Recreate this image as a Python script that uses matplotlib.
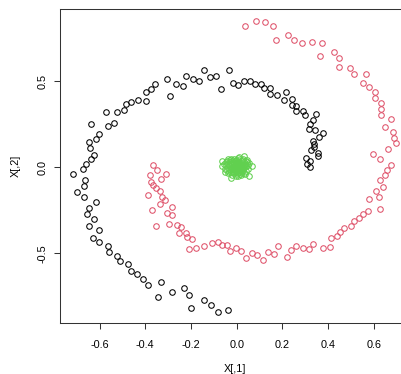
import matplotlib
matplotlib.use("Agg")
import matplotlib.pyplot as plt

# ---- data: three classes (X[,1], X[,2]) ----
black_x = [-0.038, -0.081, -0.112, -0.143, -0.200, -0.209, -0.232, -0.283, -0.346, -0.333,
           -0.390, -0.411, -0.435, -0.464, -0.474, -0.511, -0.523, -0.560, -0.565, -0.601,
           -0.628, -0.603, -0.645, -0.625, -0.654, -0.648, -0.616, -0.670, -0.699, -0.667,
           -0.665, -0.716, -0.671, -0.660, -0.639, -0.623, -0.642, -0.645, -0.614, -0.602,
           -0.639, -0.562, -0.536, -0.573, -0.524, -0.493, -0.486, -0.461, -0.433, -0.395,
           -0.396, -0.373, -0.357, -0.305, -0.293, -0.266, -0.236, -0.223, -0.193, -0.167,
           -0.143, -0.115, -0.089, -0.068, -0.032, -0.018, 0.004, 0.033, 0.060, 0.079,
           0.105, 0.118, 0.147, 0.148, 0.177, 0.215, 0.206, 0.244, 0.241, 0.262,
           0.262, 0.289, 0.300, 0.348, 0.335, 0.323, 0.318, 0.345, 0.380, 0.361,
           0.336, 0.340, 0.340, 0.325, 0.357, 0.357, 0.303, 0.322, 0.307, 0.323]
black_y = [-0.831, -0.840, -0.802, -0.772, -0.816, -0.742, -0.703, -0.723, -0.754, -0.667,
           -0.683, -0.651, -0.623, -0.601, -0.562, -0.547, -0.513, -0.494, -0.456, -0.437,
           -0.409, -0.362, -0.341, -0.299, -0.272, -0.238, -0.200, -0.174, -0.142, -0.109,
           -0.076, -0.039, -0.010, 0.019, 0.047, 0.073, 0.111, 0.145, 0.166, 0.194,
           0.250, 0.240, 0.256, 0.322, 0.322, 0.333, 0.368, 0.381, 0.391, 0.385,
           0.437, 0.454, 0.484, 0.512, 0.413, 0.484, 0.473, 0.531, 0.513, 0.503,
           0.566, 0.523, 0.529, 0.453, 0.563, 0.492, 0.480, 0.499, 0.503, 0.484,
           0.487, 0.459, 0.463, 0.424, 0.423, 0.439, 0.390, 0.399, 0.365, 0.356,
           0.327, 0.326, 0.305, 0.309, 0.277, 0.249, 0.224, 0.214, 0.202, 0.177,
           0.154, 0.135, 0.119, 0.101, 0.086, 0.065, 0.055, 0.037, 0.022, 0.002]

red_x = [0.038, 0.084, 0.125, 0.159, 0.172, 0.223, 0.251, 0.284, 0.330, 0.372,
         0.363, 0.427, 0.447, 0.449, 0.496, 0.512, 0.565, 0.551, 0.580, 0.604,
         0.604, 0.630, 0.632, 0.633, 0.676, 0.650, 0.685, 0.688, 0.698, 0.663,
         0.595, 0.626, 0.675, 0.659, 0.648, 0.627, 0.640, 0.611, 0.623, 0.581,
         0.627, 0.576, 0.555, 0.534, 0.512, 0.500, 0.470, 0.454, 0.438, 0.411,
         0.410, 0.380, 0.336, 0.317, 0.289, 0.258, 0.238, 0.220, 0.183, 0.163,
         0.139, 0.114, 0.090, 0.066, 0.039, 0.019, -0.002, -0.029, -0.042, -0.064,
         -0.081, -0.107, -0.144, -0.178, -0.210, -0.196, -0.218, -0.223, -0.253, -0.245,
         -0.263, -0.295, -0.353, -0.283, -0.306, -0.371, -0.283, -0.336, -0.314, -0.327,
         -0.386, -0.336, -0.355, -0.368, -0.375, -0.329, -0.308, -0.379, -0.349, -0.368]
red_y = [0.820, 0.852, 0.847, 0.822, 0.741, 0.771, 0.740, 0.724, 0.730, 0.723,
         0.647, 0.670, 0.635, 0.586, 0.580, 0.545, 0.541, 0.488, 0.464, 0.437,
         0.400, 0.372, 0.337, 0.304, 0.279, 0.236, 0.206, 0.173, 0.142, 0.108,
         0.078, 0.047, 0.012, -0.017, -0.047, -0.075, -0.113, -0.135, -0.174, -0.185,
         -0.245, -0.253, -0.274, -0.294, -0.313, -0.341, -0.351, -0.377, -0.402, -0.412,
         -0.462, -0.468, -0.444, -0.473, -0.468, -0.458, -0.481, -0.522, -0.459, -0.503,
         -0.494, -0.540, -0.509, -0.501, -0.527, -0.488, -0.472, -0.487, -0.452, -0.453,
         -0.434, -0.438, -0.456, -0.469, -0.474, -0.415, -0.406, -0.380, -0.380, -0.345,
         -0.334, -0.330, -0.340, -0.276, -0.264, -0.247, -0.233, -0.213, -0.188, -0.173,
         -0.163, -0.137, -0.122, -0.105, -0.084, -0.070, -0.039, -0.045, -0.013, 0.012]

green_x = [-0.063, 0.031, -0.024, 0.055, 0.054, -0.066, 0.066, -0.050, 0.045, -0.040,
           0.010, -0.012, 0.022, -0.030, 0.038, -0.045, 0.048, -0.052, 0.030, -0.020,
           0.005, 0.018, -0.035, 0.040, -0.008, 0.012, -0.025, 0.025, -0.015, 0.015,
           0.000, 0.005, -0.005, 0.010, -0.010, 0.020, -0.020, 0.002, -0.003, 0.028,
           -0.028, 0.008, -0.012, 0.014, -0.006, 0.032, -0.034, 0.003, -0.018, 0.022,
           0.035, -0.038, 0.016, -0.024, 0.006, -0.002, 0.026, -0.030, 0.042, -0.044,
           0.012, -0.014, 0.018, -0.008, 0.030, -0.032, 0.000, 0.008, -0.016, 0.024,
           -0.010, 0.036, -0.026, 0.004, -0.004, 0.020, -0.036, 0.046, -0.042, 0.014,
           -0.020, 0.028, -0.006, 0.010, -0.014, 0.034, -0.030, 0.002, 0.016, -0.022,
           0.040, -0.048, 0.050, -0.056, 0.020, 0.000, -0.010, 0.012, -0.004, 0.006]
green_y = [0.038, 0.066, -0.060, -0.051, 0.027, 0.010, 0.005, -0.030, 0.045, 0.050,
           0.058, 0.048, 0.040, 0.030, 0.020, 0.015, -0.010, -0.008, -0.035, -0.042,
           -0.050, -0.045, -0.025, -0.022, 0.035, 0.030, 0.015, 0.012, -0.020, -0.018,
           0.000, 0.010, -0.008, -0.005, 0.006, 0.002, -0.002, 0.022, -0.025, -0.012,
           0.005, 0.018, -0.012, 0.008, 0.014, 0.028, -0.010, -0.015, 0.024, -0.028,
           0.005, 0.022, 0.020, -0.030, -0.035, 0.040, 0.050, 0.040, 0.008, -0.018,
           -0.028, 0.030, -0.008, -0.018, 0.018, 0.012, -0.040, 0.045, 0.002, -0.020,
           -0.034, -0.040, 0.050, 0.004, 0.026, 0.034, -0.036, 0.032, 0.034, -0.038,
           0.036, 0.006, -0.004, 0.024, -0.026, -0.006, -0.018, 0.012, -0.014, 0.020,
           0.036, 0.028, 0.012, 0.020, 0.015, 0.030, 0.000, 0.000, -0.048, 0.052]

x_ticks = [-0.6, -0.4, -0.2, 0.0, 0.2, 0.4, 0.6]
y_ticks = [-0.5, 0.0, 0.5]

# ---- R base-graphics look ----
plt.rcParams["font.family"] = ["Liberation Sans", "DejaVu Sans"]
font_size = 7.8

W, H = 401, 374
fig = plt.figure(figsize=(W / 100, H / 100), dpi=100)
fig.patch.set_facecolor("white")

# plot region in pixels: left 60.3, right 409 (beyond the crop), top 9.3, bottom 323.3
ax = fig.add_axes([60.3 / W, 1 - 323.3 / H, (409 - 60.3) / W, (323.3 - 9.3) / H])
ax.set_xlim(-0.772, 0.7545)
ax.set_ylim(-0.907, 0.9186)

point_kw = dict(linestyle="none", marker="o", markerfacecolor="none",
                markersize=4.0, markeredgewidth=0.75)
ax.plot(black_x, black_y, markeredgecolor="black", **point_kw)
ax.plot(red_x, red_y, markeredgecolor="#DF536B", **point_kw)
ax.plot(green_x, green_y, markeredgecolor="#61D04F", **point_kw)

for side in ["left", "bottom", "top", "right"]:
    ax.spines[side].set_linewidth(0.75)
    ax.spines[side].set_color("#333333")

ax.set_xticks(x_ticks)
ax.set_xticklabels([f"{t:.1f}" for t in x_ticks])
ax.set_yticks(y_ticks)
ax.set_yticklabels([f"{t:.1f}" for t in y_ticks], rotation=90, va="center")
ax.tick_params(axis="x", length=4.3, width=0.75, color="#333333",
               labelsize=font_size, pad=7.5)
ax.tick_params(axis="y", length=4.3, width=0.75, color="#333333",
               labelsize=font_size, pad=4.6)

ax.set_xlabel("X[,1]", fontsize=font_size, va="center")
ax.xaxis.set_label_coords(0.5, -(369 - 323.3) / 314)
ax.set_ylabel("X[,2]", fontsize=font_size, va="center")
ax.yaxis.set_label_coords((16 - 60.3) / 348.7, 0.5)

fig.savefig("out.png", dpi=100, facecolor="white")
plt.close(fig)
